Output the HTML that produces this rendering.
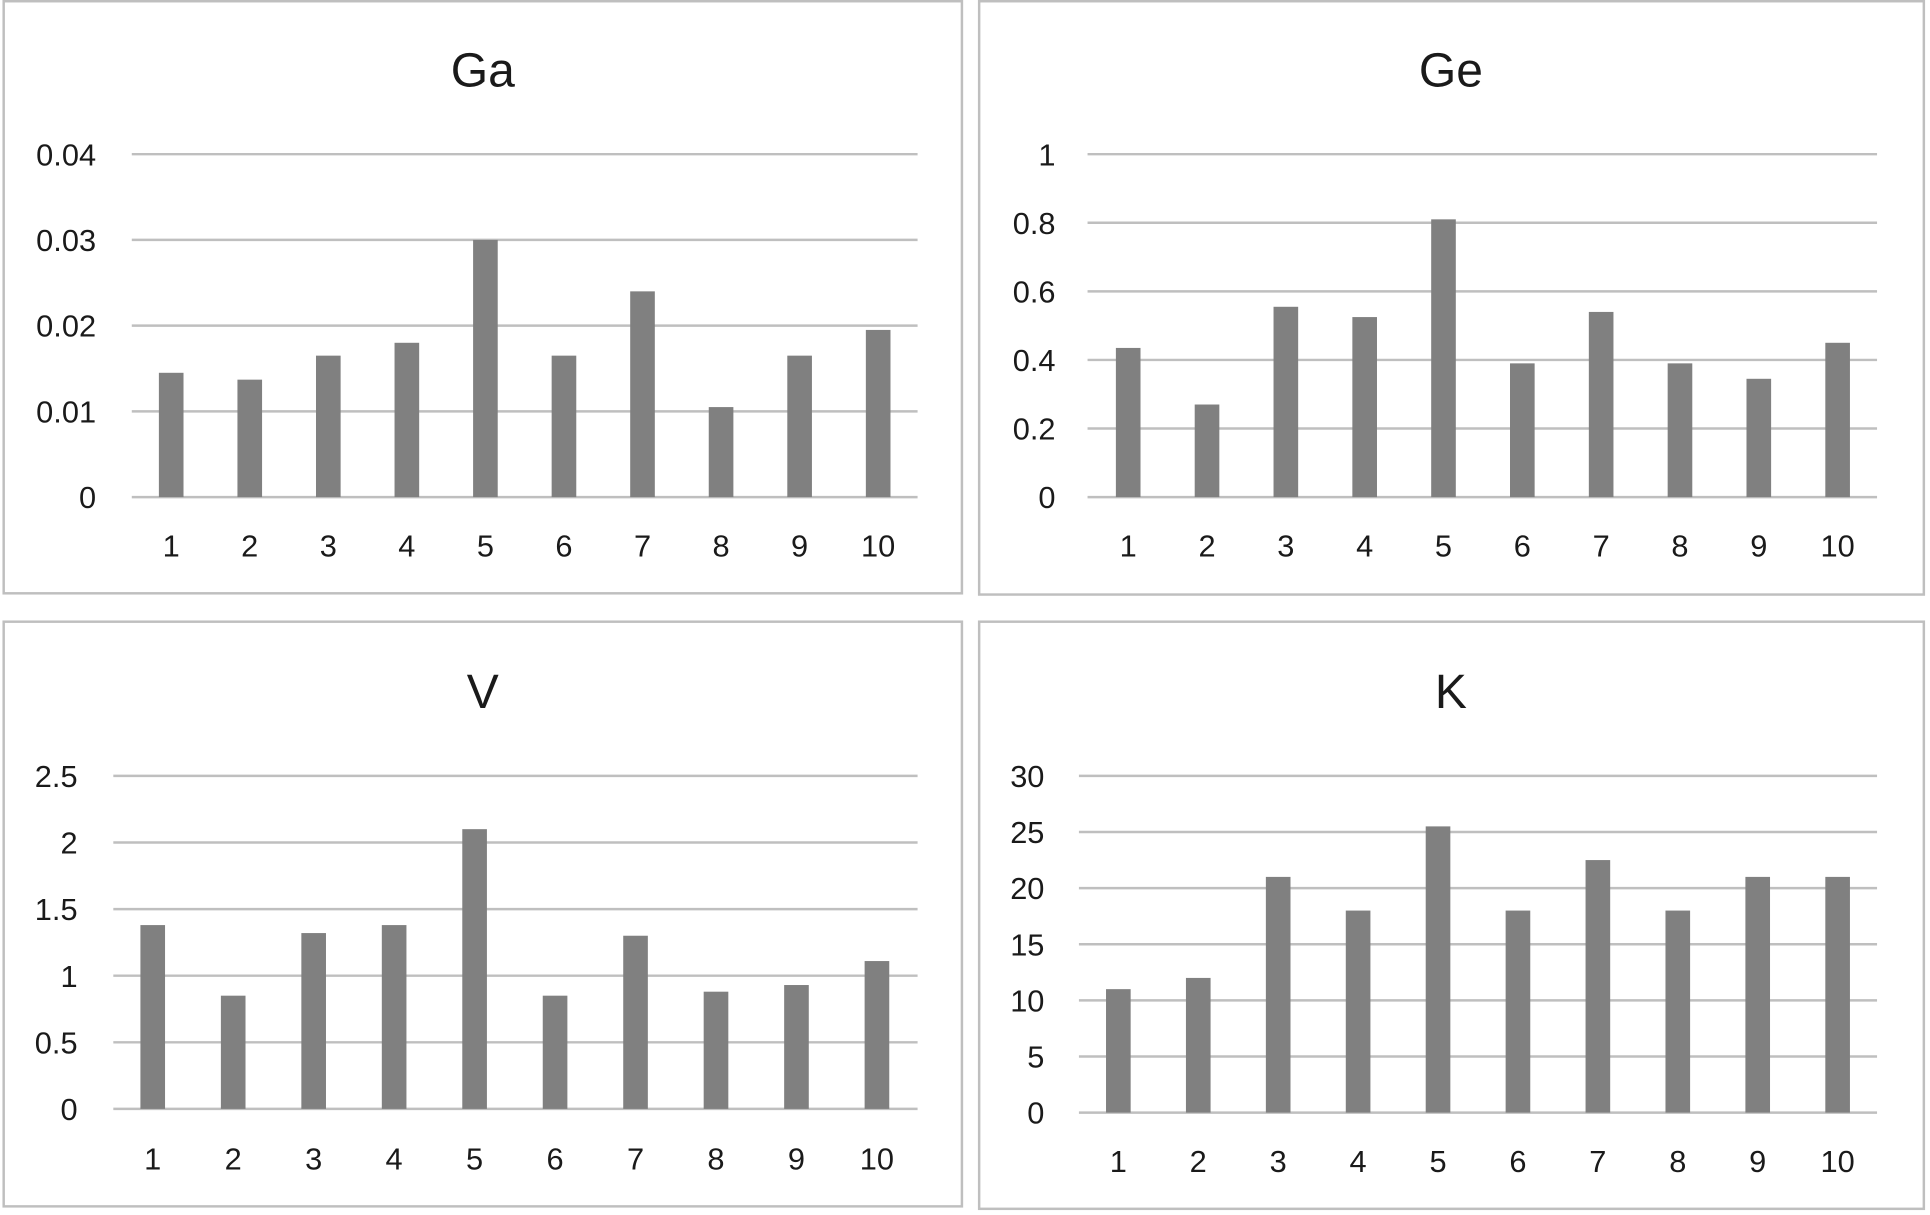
<!DOCTYPE html>
<html><head><meta charset="utf-8"><style>
html,body{margin:0;padding:0;background:#fff;}
svg{display:block;}
text{font-family:"Liberation Sans",sans-serif;fill:#1a1a1a;}
</style></head><body>
<svg id="chart" width="1930" height="1215" viewBox="0 0 1567 985" preserveAspectRatio="none" xmlns="http://www.w3.org/2000/svg"></svg>
<script>
const categories = ["1","2","3","4","5","6","7","8","9","10"];
const gaValues = [0.0145,0.0137,0.0165,0.018,0.030,0.0165,0.024,0.0105,0.0165,0.0195];
const gaTicks = ["0","0.01","0.02","0.03","0.04"];
const geValues = [0.435,0.27,0.555,0.525,0.81,0.39,0.54,0.39,0.345,0.45];
const geTicks = ["0","0.2","0.4","0.6","0.8","1"];
const vValues = [1.38,0.85,1.32,1.38,2.1,0.85,1.3,0.88,0.93,1.11];
const vTicks = ["0","0.5","1","1.5","2","2.5"];
const kValues = [11,12,21,18,25.5,18,22.5,18,21,21];
const kTicks = ["0","5","10","15","20","25","30"];

const NS="http://www.w3.org/2000/svg";
const svg=document.getElementById('chart');
function mk(tag,attrs,parent){const e=document.createElementNS(NS,tag);for(const k in attrs)e.setAttribute(k,attrs[k]);parent.appendChild(e);return e;}

const panels=[
 {name:'ga',title:'Ga',values:gaValues,ticks:gaTicks,box:[3,1,778,480],gx0:107,gx1:745,gyTop:125,gy0:403,c0:139,c1:713,labX:78,titleX:392,titleY:70,xLabY:451},
 {name:'ge',title:'Ge',values:geValues,ticks:geTicks,box:[795,1,767,481],gx0:883,gx1:1524,gyTop:125,gy0:403,c0:916,c1:1492,labX:857,titleX:1178,titleY:70,xLabY:451},
 {name:'v',title:'V',values:vValues,ticks:vTicks,box:[3,504,778,474],gx0:92,gx1:745,gyTop:629,gy0:899,c0:124,c1:712,labX:63,titleX:392,titleY:574,xLabY:948},
 {name:'k',title:'K',values:kValues,ticks:kTicks,box:[795,504,767,476],gx0:876,gx1:1524,gyTop:629,gy0:902,c0:908,c1:1492,labX:848,titleX:1178,titleY:574,xLabY:950}
];

panels.forEach(p=>{
  const g=mk('g',{},svg);
  
  
  const r=mk('rect',{x:p.box[0],y:p.box[1],width:p.box[2],height:p.box[3],fill:'#fff',stroke:'#bfbfbf','stroke-width':2},g);
  
  
  const t=mk('text',{x:p.titleX,y:p.titleY,'text-anchor':'middle','font-size':39},g);
  t.textContent=p.title;
  
  
  const maxV=parseFloat(p.ticks[p.ticks.length-1]);
  const y=v=>p.gy0-(v/maxV)*(p.gy0-p.gyTop);
  const n=categories.length;
  const x=i=>p.c0+i*(p.c1-p.c0)/(n-1);
  p.ticks.forEach(tk=>{
    const v=parseFloat(tk);
    const l=mk('line',{x1:p.gx0,x2:p.gx1,y1:y(v),y2:y(v),stroke:'#bfbfbf','stroke-width':2},g);
    
    
    const lt=mk('text',{x:p.labX,y:y(v)+9,'text-anchor':'end','font-size':25},g);
    lt.textContent=tk;
    
    
  });
  p.values.forEach((v,i)=>{
    const b=mk('rect',{x:x(i)-10,y:y(v),width:20,height:p.gy0-y(v),fill:'#808080'},g);
    
    
    const xl=mk('text',{x:x(i),y:p.xLabY,'text-anchor':'middle','font-size':25},g);
    xl.textContent=categories[i];
    
    
  });
});
</script>
</body></html>
